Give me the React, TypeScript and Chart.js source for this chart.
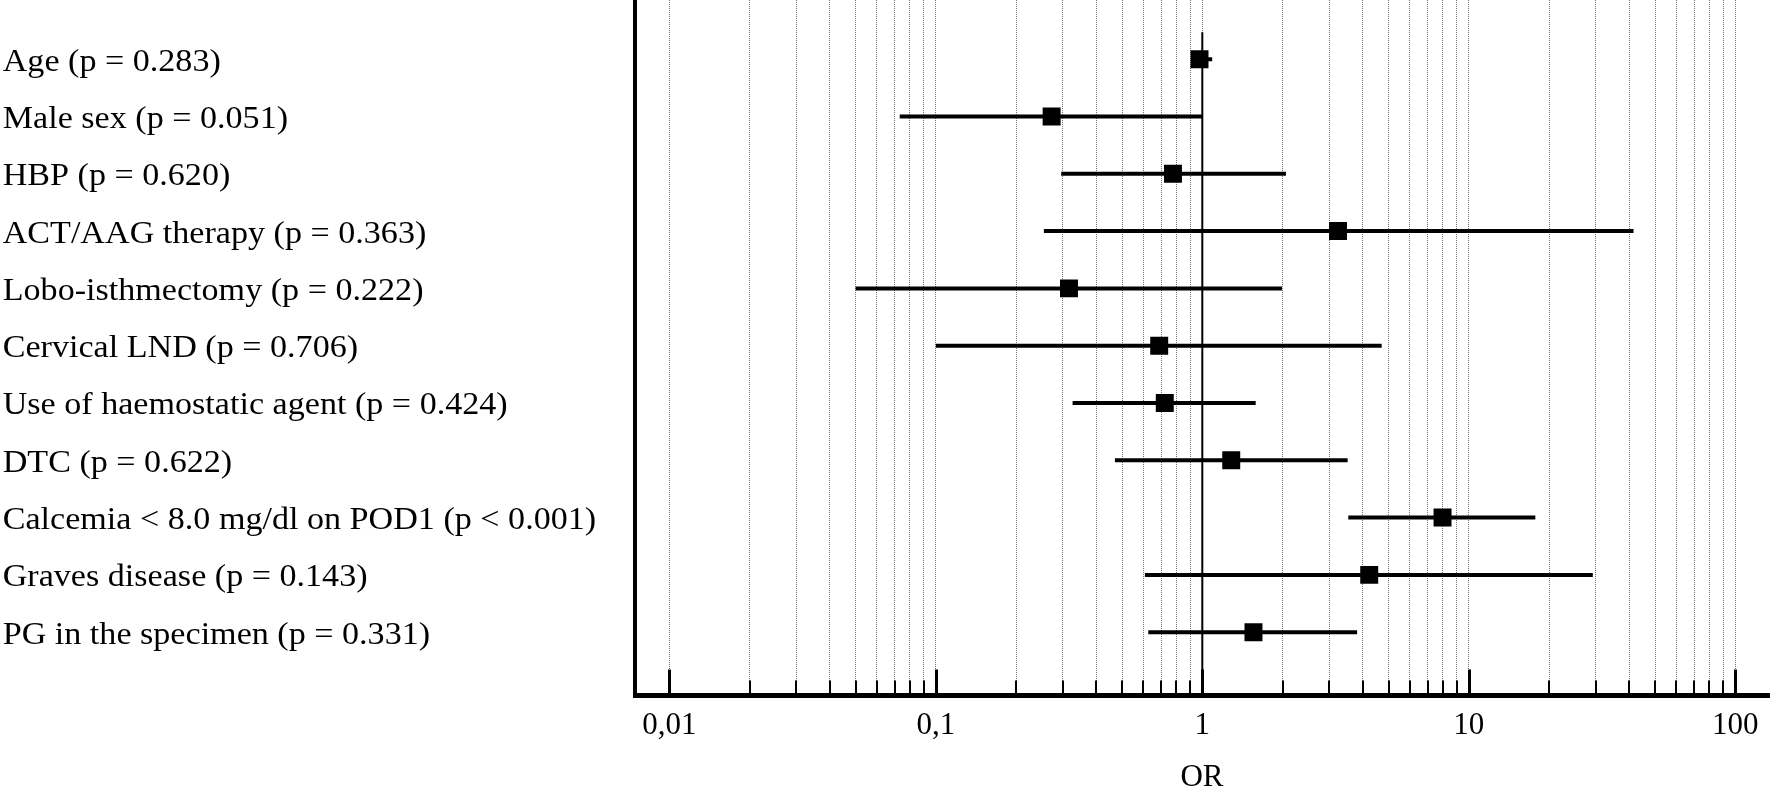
import React, { useEffect, useRef } from "react";
import { Chart, registerables } from "chart.js";

Chart.register(...registerables);

// ---- data ----
const rowLabels = [
  "Age (p = 0.283)",
  "Male sex (p = 0.051)",
  "HBP (p = 0.620)",
  "ACT/AAG therapy (p = 0.363)",
  "Lobo-isthmectomy (p = 0.222)",
  "Cervical LND (p = 0.706)",
  "Use of haemostatic agent (p = 0.424)",
  "DTC (p = 0.622)",
  "Calcemia < 8.0 mg/dl on POD1 (p < 0.001)",
  "Graves disease (p = 0.143)",
  "PG in the specimen (p = 0.331)",
];
const oddsRatios = [0.976, 0.272, 0.776, 3.23, 0.316, 0.689, 0.723, 1.284, 7.97, 4.23, 1.556];
const ciLower = [0.93, 0.0732, 0.2955, 0.2544, 0.05, 0.1, 0.326, 0.47, 3.53, 0.609, 0.627];
const ciUpper = [1.089, 1.0, 2.06, 41.5, 1.99, 4.71, 1.586, 3.51, 17.77, 29.2, 3.81];
const decadeTicks = [0.01, 0.1, 1, 10, 100];
const decadeLabels = ["0,01", "0,1", "1", "10", "100"];
const axisTitle = "OR";
const referenceOR = 1;

// ---- axis helpers ----
const X_MIN = 0.007434;
const X_MAX = 133.8;
const Y_MIN = -1.033;
const Y_MAX = 11.105;

const gridValues: number[] = [];
for (let d = 0; d < decadeTicks.length - 1; d++) {
  for (let m = 1; m <= 9; m++) gridValues.push(Number((decadeTicks[d] * m).toPrecision(6)));
}
gridValues.push(decadeTicks[decadeTicks.length - 1]);

const decadeIndex = (v: number) =>
  decadeTicks.findIndex((d) => Math.abs(Math.log10(v) - Math.log10(d)) < 1e-6);

const serif = '"Liberation Serif", "Times New Roman", serif';

const overlayPlugin = {
  id: "forestOverlay",
  afterDatasetsDraw(chart: any) {
    const ctx = chart.ctx;
    const xs = chart.scales.x;
    const ys = chart.scales.y;
    // inner tick marks on the OR axis
    ctx.save();
    ctx.strokeStyle = "#000";
    const top = xs.top;
    gridValues.forEach((v) => {
      const major = decadeIndex(v) >= 0;
      const px = Math.round(xs.getPixelForValue(v)) + (major ? 0.5 : 0);
      ctx.lineWidth = major ? 3 : 2;
      ctx.beginPath();
      ctx.moveTo(px, top);
      ctx.lineTo(px, top - (major ? 26 : 15));
      ctx.stroke();
    });
    ctx.restore();
    // row labels
    ctx.save();
    ctx.font = `31px ${serif}`;
    ctx.fillStyle = "#000";
    ctx.textAlign = "left";
    ctx.textBaseline = "alphabetic";
    rowLabels.forEach((t, i) => {
      const y = ys.getPixelForValue(i) + 11.5;
      ctx.save();
      ctx.translate(2.7, y);
      ctx.scale(1.1, 1);
      ctx.fillText(t, 0, 0);
      ctx.restore();
    });
    ctx.restore();
  },
};

export default function App() {
  const ref = useRef<HTMLCanvasElement | null>(null);

  useEffect(() => {
    document.body.style.margin = "0";
    const canvas = ref.current;
    if (!canvas) return;

    const ciSets = rowLabels.map((_, i) => ({
      type: "line" as const,
      data: [
        { x: ciLower[i], y: i },
        { x: ciUpper[i], y: i },
      ],
      borderColor: "#000",
      borderWidth: 4,
      pointRadius: 0,
      fill: false,
      order: 2,
    }));

    const chart = new Chart(canvas, {
      type: "line",
      data: {
        datasets: [
          {
            type: "line",
            data: [
              { x: referenceOR, y: -0.47 },
              { x: referenceOR, y: Y_MAX },
            ],
            borderColor: "#000",
            borderWidth: 2,
            pointRadius: 0,
            fill: false,
            order: 3,
          } as any,
          ...ciSets,
          {
            type: "line",
            data: oddsRatios.map((v, i) => ({ x: v, y: i })),
            showLine: false,
            pointStyle: "rect",
            pointRadius: 12.7,
            pointBackgroundColor: "#000",
            pointBorderWidth: 0,
            borderColor: "#000",
            order: 1,
          } as any,
        ],
      },
      options: {
        animation: false,
        responsive: false,
        maintainAspectRatio: false,
        events: [],
        layout: { autoPadding: false, padding: { left: 0, right: 2, top: 0, bottom: 0 } },
        plugins: {
          legend: { display: false },
          tooltip: { enabled: false },
        },
        scales: {
          x: {
            type: "logarithmic",
            position: "bottom",
            min: X_MIN,
            max: X_MAX,
            bounds: "data",
            afterBuildTicks: (s: any) => {
              s.ticks = gridValues.map((v) => ({ value: v, major: decadeIndex(v) >= 0 }));
            },
            afterFit: (s: any) => {
              s.height = 94.5;
            },
            ticks: {
              autoSkip: false,
              maxRotation: 0,
              minRotation: 0,
              padding: 12,
              color: "#000",
              font: { family: serif, size: 31 },
              callback: (value: any) => {
                const k = decadeIndex(Number(value));
                return k >= 0 ? decadeLabels[k] : "";
              },
            },
            grid: { display: true, drawTicks: false, color: "#707070", lineWidth: 1 },
            border: { display: true, width: 5, color: "#000", dash: [1, 1] },
            title: {
              display: true,
              text: axisTitle,
              color: "#000",
              font: { family: serif, size: 31, lineHeight: 0.6 },
              padding: { top: 0, bottom: 3 },
            },
          } as any,
          y: {
            type: "linear",
            min: Y_MIN,
            max: Y_MAX,
            reverse: true,
            bounds: "data",
            afterFit: (s: any) => {
              s.width = 635;
            },
            ticks: { display: false },
            grid: { display: false },
            border: { display: true, width: 4, color: "#000" },
          } as any,
        },
      },
      plugins: [overlayPlugin],
    });

    return () => chart.destroy();
  }, []);

  return (
    <canvas
      ref={ref}
      width={1771}
      height={790}
      style={{ display: "block", width: 1771, height: 790 }}
    />
  );
}
